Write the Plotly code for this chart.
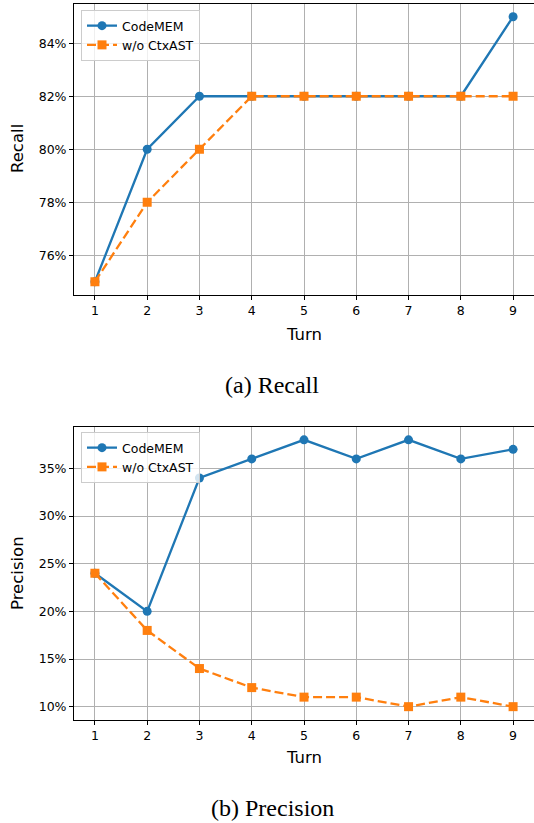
import plotly.graph_objects as go

turns = [1, 2, 3, 4, 5, 6, 7, 8, 9]
recall_codemem = [75, 80, 82, 82, 82, 82, 82, 82, 85]
recall_wo = [75, 78, 80, 82, 82, 82, 82, 82, 82]
prec_codemem = [24, 20, 34, 36, 38, 36, 38, 36, 37]
prec_wo = [24, 18, 14, 12, 11, 11, 10, 11, 10]
recall_ticks = [76, 78, 80, 82, 84]
prec_ticks = [10, 15, 20, 25, 30, 35]

W, H = 534, 823
BLUE, ORANGE = "#1f77b4", "#ff7f0e"
SANS = "DejaVu Sans"

def py(px):
    return 1 - px / H

fig = go.Figure()

def add_pair(xa, ya, y1, y2, legend):
    fig.add_trace(go.Scatter(x=turns, y=y1, name="CodeMEM", mode="lines+markers",
                             line=dict(color=BLUE, width=2.3),
                             marker=dict(symbol="circle", size=9, color=BLUE),
                             xaxis=xa, yaxis=ya, legend=legend))
    fig.add_trace(go.Scatter(x=turns, y=y2, name="w/o CtxAST", mode="lines+markers",
                             line=dict(color=ORANGE, width=2.3, dash="9px,4px"),
                             marker=dict(symbol="square", size=9, color=ORANGE),
                             xaxis=xa, yaxis=ya, legend=legend))

add_pair("x", "y", recall_codemem, recall_wo, "legend")
add_pair("x2", "y2", prec_codemem, prec_wo, "legend2")

x0 = 74 / W
axis_common = dict(showgrid=True, gridcolor="#b0b0b0", gridwidth=1,
                   showline=True, linecolor="black", linewidth=1,
                   ticks="outside", ticklen=4, tickcolor="black", tickwidth=1,
                   tickfont=dict(family=SANS, size=12.5, color="black"),
                   zeroline=False, automargin=False)

fig.update_layout(
    width=W, height=H,
    margin=dict(l=0, r=0, t=0, b=0),
    paper_bgcolor="white", plot_bgcolor="white",
    showlegend=True,
    xaxis=dict(domain=[x0, 1.0], range=[0.6, 9.4], tickvals=turns, mirror=True,
               anchor="y", **axis_common),
    yaxis=dict(domain=[py(295), py(3.5)], range=[74.5, 85.5], tickmode="array",
               tickvals=recall_ticks, ticktext=[f"{v}%" for v in recall_ticks],
               anchor="x", **axis_common),
    xaxis2=dict(domain=[x0, 1.0], range=[0.6, 9.4], tickvals=turns, mirror=True,
                anchor="y2", **axis_common),
    yaxis2=dict(domain=[py(720), py(426.5)], range=[8.6, 39.4], tickmode="array",
                tickvals=prec_ticks, ticktext=[f"{v}%" for v in prec_ticks],
                anchor="x2", **axis_common),
    legend=dict(x=81 / W, y=py(10), xanchor="left", yanchor="top",
                bgcolor="rgba(255,255,255,0.8)", bordercolor="#cccccc", borderwidth=1,
                font=dict(family=SANS, size=12.5, color="black")),
    legend2=dict(x=81 / W, y=py(432), xanchor="left", yanchor="top",
                 bgcolor="rgba(255,255,255,0.8)", bordercolor="#cccccc", borderwidth=1,
                 font=dict(family=SANS, size=12.5, color="black")),
)

ann = []
def label(text, x, y, size, family=SANS, angle=0):
    ann.append(dict(text=text, x=x / W, y=py(y), xref="paper", yref="paper",
                    showarrow=False, xanchor="center", yanchor="middle",
                    textangle=angle, font=dict(family=family, size=size, color="black")))

label("Recall", 17, 149, 16.5, angle=-90)
label("Turn", 304, 334, 16.5)
label("(a) Recall", 272, 385, 24, family="Liberation Serif")
label("Precision", 17, 573, 16.5, angle=-90)
label("Turn", 304, 757, 16.5)
label("(b) Precision", 272, 808, 24, family="Liberation Serif")

fig.update_layout(annotations=ann)
fig.write_html("out.html", config={"displayModeBar": False},
               post_script="document.body.style.margin='0';document.body.style.overflow='hidden';")
